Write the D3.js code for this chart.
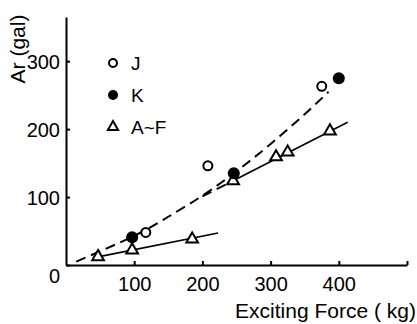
<!DOCTYPE html>
<html>
<head>
<meta charset="utf-8">
<script src="https://cdn.jsdelivr.net/npm/d3@7"></script>
<style>
  body { margin: 0; background: #fff; }
  text { font-family: "Liberation Sans", Arial, sans-serif; fill: #000; }
</style>
</head>
<body>
<svg id="chart" width="417" height="324"></svg>
<script>
// values (x: kg, y: gal)
const jX = [117, 208, 375];
const jY = [48, 146, 263];
const kX = [97, 246, 400];
const kY = [41, 135, 275];
const afX = [47, 97, 185, 245, 308, 325, 387];
const afY = [12, 22, 38, 124, 159, 166, 197];

// fitted lines as drawn on the figure
const curveX = [15, 100, 150, 200, 250, 300, 350, 385];
const curveY = [5, 43, 71, 102, 138, 178, 222, 255];
const lowX = [47, 223];
const lowY = [12, 47];
const upDashX = [200, 245];
const upDashY = [101, 124];
const upX = [245, 413];
const upY = [124, 210];

const xTicks = [100, 200, 300, 400, 500];
const yTicks = [0, 100, 200, 300];

const legendLabels = ["J", "K", "A~F"];

const svg = d3.select("#chart");

let x = d3.scaleLinear().domain([0, 500]).range([66, 407]);
let y = d3.scaleLinear().domain([0, 365]).range([265, 17]);

// axes (ticks pointing inward)
let yAxis = svg.append("g").attr("transform", "translate(66,0)")
    .call(d3.axisLeft(y).tickValues(yTicks).tickSizeInner(-4).tickSizeOuter(0).tickPadding(6));
yAxis.select(".domain").attr("stroke-width", 2);
yAxis.selectAll(".tick line").attr("stroke-width", 2);
yAxis.selectAll(".tick text").attr("font-size", 20).attr("font-family", "Liberation Sans")
    .attr("dy", d => d === 0 ? "0.85em" : "0.35em");

let xAxis = svg.append("g").attr("transform", "translate(0,265)")
    .call(d3.axisBottom(x).tickValues(xTicks).tickSizeInner(-4).tickSizeOuter(0).tickPadding(12)
        .tickFormat(d => d === 500 ? "" : d));
xAxis.select(".domain").attr("stroke-width", 2);
xAxis.selectAll(".tick line").attr("stroke-width", 2);
xAxis.selectAll(".tick text").attr("font-size", 20).attr("font-family", "Liberation Sans");

// axis titles
svg.append("text")
    .attr("x", 416).attr("y", 318)
    .attr("text-anchor", "end")
    .attr("font-size", 21)
    .text("Exciting Force ( kg)");

svg.append("text")
    .attr("transform", "translate(25,49) rotate(-90)")
    .attr("text-anchor", "middle")
    .attr("font-size", 21)
    .text("Ar (gal)");

// lines
let line = d3.line().x(d => x(d[0])).y(d => y(d[1]));
let curveLine = d3.line().x(d => x(d[0])).y(d => y(d[1])).curve(d3.curveNatural);

svg.append("path")
    .datum(d3.zip(curveX, curveY))
    .attr("d", curveLine)
    .attr("fill", "none").attr("stroke", "#000").attr("stroke-width", 2)
    .attr("stroke-dasharray", "10,6");

svg.append("path")
    .datum(d3.zip(lowX, lowY))
    .attr("d", line)
    .attr("fill", "none").attr("stroke", "#000").attr("stroke-width", 1.6);

svg.append("path")
    .datum(d3.zip(upDashX, upDashY))
    .attr("d", line)
    .attr("fill", "none").attr("stroke", "#000").attr("stroke-width", 2)
    .attr("stroke-dasharray", "10,6");

svg.append("path")
    .datum(d3.zip(upX, upY))
    .attr("d", line)
    .attr("fill", "none").attr("stroke", "#000").attr("stroke-width", 1.6);

// markers
let tri = d3.symbol().type(d3.symbolTriangle).size(60);

svg.append("g").selectAll("path")
    .data(d3.zip(afX, afY))
    .enter().append("path")
    .attr("d", tri)
    .attr("transform", d => "translate(" + x(d[0]) + "," + y(d[1]) + ")")
    .attr("fill", "#fff").attr("stroke", "#000").attr("stroke-width", 2);

svg.append("g").selectAll("circle")
    .data(d3.zip(jX, jY))
    .enter().append("circle")
    .attr("cx", d => x(d[0])).attr("cy", d => y(d[1])).attr("r", 4.5)
    .attr("fill", "#fff").attr("stroke", "#000").attr("stroke-width", 2);

svg.append("g").selectAll("circle")
    .data(d3.zip(kX, kY))
    .enter().append("circle")
    .attr("cx", d => x(d[0])).attr("cy", d => y(d[1])).attr("r", 6)
    .attr("fill", "#000");

// legend
let legend = svg.append("g");
legend.append("circle").attr("cx", 113).attr("cy", 63).attr("r", 4)
    .attr("fill", "#fff").attr("stroke", "#000").attr("stroke-width", 2);
legend.append("circle").attr("cx", 113).attr("cy", 95).attr("r", 5).attr("fill", "#000");
legend.append("path").attr("d", d3.symbol().type(d3.symbolTriangle).size(45))
    .attr("transform", "translate(113,127)")
    .attr("fill", "#fff").attr("stroke", "#000").attr("stroke-width", 2);

legend.selectAll("text")
    .data(legendLabels)
    .enter().append("text")
    .attr("x", 131).attr("y", (d, i) => 63 + i * 32)
    .attr("dy", "0.35em")
    .attr("font-size", 19)
    .text(d => d);
</script>
</body>
</html>
